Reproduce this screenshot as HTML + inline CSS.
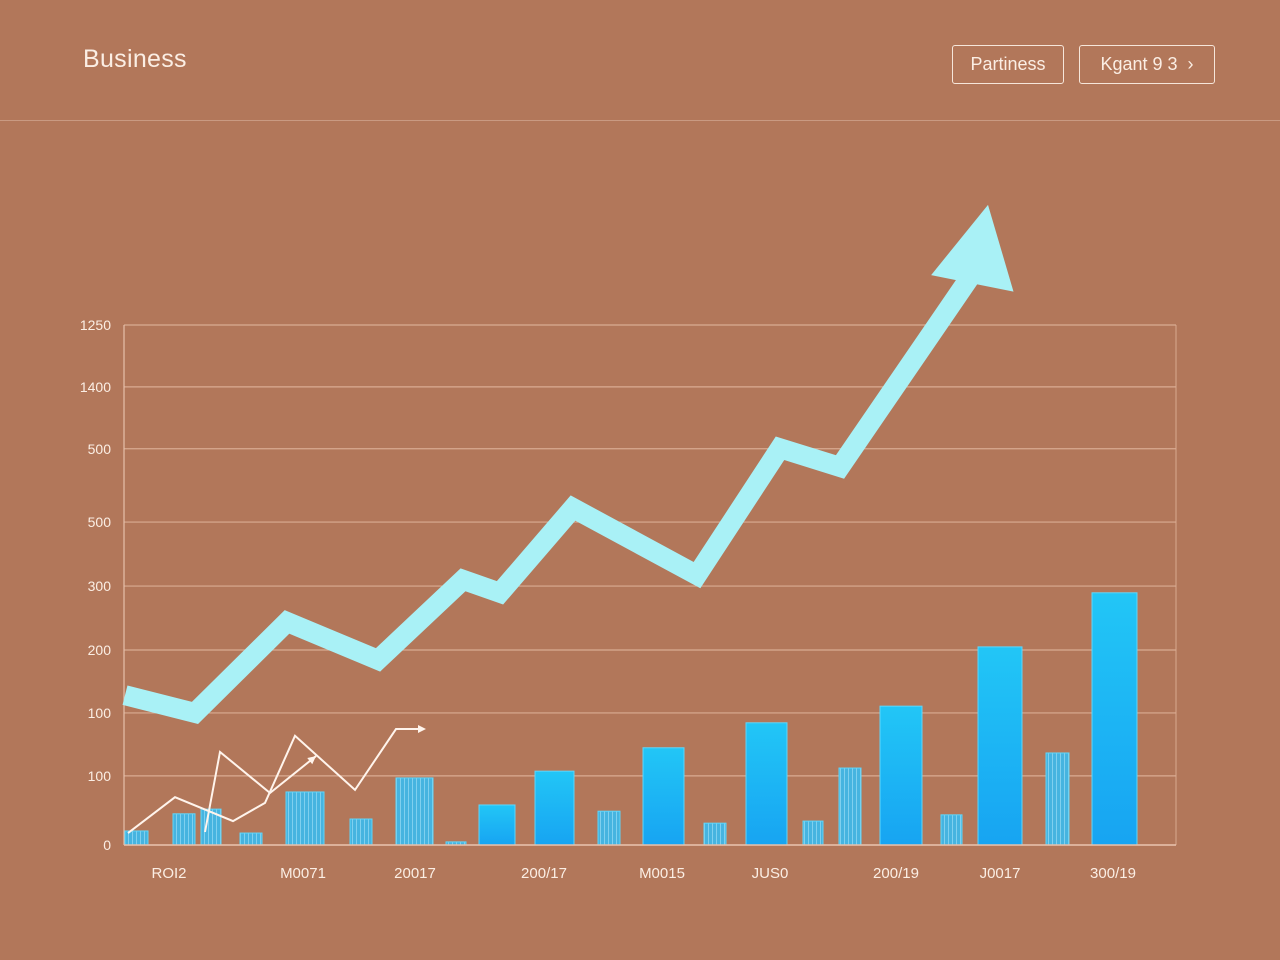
<!DOCTYPE html>
<html><head><meta charset="utf-8"><style>
body{margin:0;width:1280px;height:960px;background:#b2775a;font-family:"Liberation Sans",sans-serif;overflow:hidden;position:relative}
.title{position:absolute;left:83px;top:45px;font-size:25px;color:#fbeee4;font-weight:500;letter-spacing:0.3px}
.btn{position:absolute;top:45px;height:39px;border:1.5px solid #f6e6da;border-radius:3px;color:#fbeee4;font-size:18px;line-height:37px;text-align:center;box-sizing:border-box}
.sep{position:absolute;left:0;top:120px;width:1280px;height:1px;background:#c99a82}
</style></head><body>
<div class="title">Business</div>
<div class="btn" style="left:952px;width:112px">Partiness</div>
<div class="btn" style="left:1079px;width:136px">Kgant 9 3 &nbsp;›</div>
<div class="sep"></div>
<svg id="chart" width="1280" height="960" style="position:absolute;left:0;top:0">
<defs>
<linearGradient id="bg" x1="0" y1="0" x2="0" y2="1"><stop offset="0" stop-color="#22c6f6"/><stop offset="1" stop-color="#17a4f2"/></linearGradient>
<pattern id="st" width="4" height="10" patternUnits="userSpaceOnUse"><rect width="4" height="10" fill="#46b4e0"/><rect width="1" height="10" fill="#7fd0ef"/></pattern>
</defs>
</svg>
<script>
const tickVals=[0,133,254,375,498,621,762,881,1000];
const tickLabels=["0","100","100","200","300","500","500","1400","1250"];
const barX=[1,49,77,116,162,226,272,322,355,411,474,519,580,622,679,715,756,817,854,922,968];
const barW=[23,22,20,22,38,22,37,20,36,39,22,41,22,41,20,22,42,21,44,23,45];
const barVals=[27,60,69,23,102,50,129,6,77,142,65,187,42,235,46,148,267,58,381,177,485];
const barStriped=[1,1,1,1,1,1,1,1,0,0,1,0,1,0,1,1,0,1,0,1,0];
const arrowX=[1,71,163,254,339,376,449,573,656,716,851,864];
const arrowVals=[288,254,429,356,510,485,648,519,763,727,1106,1231];
const lineAX=[4,51,109,141,171,231,272,296];
const lineAVals=[23,92,46,81,210,106,223,223];
const lineBX=[81,96,146,192];
const lineBVals=[25,179,100,171];
const xLabels=["ROI2","M0071","20017","200/17","M0015","JUS0","200/19","J0017","300/19"];
const xLabelPx=[169,303,415,544,662,770,896,1000,1113];
const svg=document.getElementById('chart'),NS='http://www.w3.org/2000/svg';
const X0=124,X1=1176,Y0=845,Y1=325;
const xs=v=>X0+v, ys=v=>Y0-v*(Y0-Y1)/1000;
function mk(t,a){const e=document.createElementNS(NS,t);for(const k in a)e.setAttribute(k,a[k]);svg.appendChild(e);return e;}
mk('line',{x1:X1,y1:Y1,x2:X1,y2:Y0,stroke:'#d8a98f','stroke-width':1});
tickVals.forEach((v,i)=>{
 const g=mk('line',{x1:X0,x2:X1,y1:ys(v),y2:ys(v),stroke:'#d9ab92','stroke-width':1.2});
 
 
 const t=mk('text',{x:111,y:ys(v)+5,'text-anchor':'end','font-size':14,fill:'#fbeee4'});t.textContent=tickLabels[i];
 
 
});
mk('line',{x1:X0,y1:Y1,x2:X0,y2:Y0,stroke:'#e6c0ab','stroke-width':1.2});
barVals.forEach((v,i)=>{
 const x=xs(barX[i]),y=ys(v);
 const r=mk('rect',{x:x,y:y,width:barW[i],height:Y0-y,fill:barStriped[i]?'url(#st)':'url(#bg)',stroke:'#5fd6fa','stroke-width':1});
 
 
});
mk('line',{x1:X0,y1:Y0,x2:X1,y2:Y0,stroke:'#e6c0ab','stroke-width':1.5});
function poly(xa,va,w,c,name){
 const p=mk('polyline',{points:xa.map((x,i)=>xs(x)+','+ys(va[i])).join(' '),fill:'none',stroke:c,'stroke-width':w,'stroke-linejoin':'miter'});
 
 
}
function head(xa,va,len,wid,c,name){const n=xa.length,tx=xs(xa[n-1]),ty=ys(va[n-1]),bx=xs(xa[n-2]),by=ys(va[n-2]);
 const dx=tx-bx,dy=ty-by,L=Math.hypot(dx,dy),ux=dx/L,uy=dy/L,hx=tx-ux*len,hy=ty-uy*len;
 const h=mk('polygon',{points:`${tx},${ty} ${hx-uy*wid},${hy+ux*wid} ${hx+uy*wid},${hy-ux*wid}`,fill:c});
 
 }
poly(arrowX.slice(0,11),arrowVals.slice(0,11),20,'#a9f1f6','trend-arrow-line');
head(arrowX,arrowVals,80,42,'#a9f1f6','trend-arrow-head');
poly(lineAX,lineAVals,2,'#fff4ec','small-trend-line-a');
head(lineAX.concat([lineAX[lineAX.length-1]+6]),lineAVals.concat([lineAVals[lineAVals.length-1]]),8,4,'#fff4ec','small-arrow-head-a');
poly(lineBX,lineBVals,2,'#fff4ec','small-trend-line-b');
head(lineBX,lineBVals,8,4,'#fff4ec','small-arrow-head-b');
xLabels.forEach((l,i)=>{const t=mk('text',{x:xLabelPx[i],y:878,'text-anchor':'middle','font-size':15,fill:'#fbeee4'});t.textContent=l;
 
 });
</script>
</body></html>
